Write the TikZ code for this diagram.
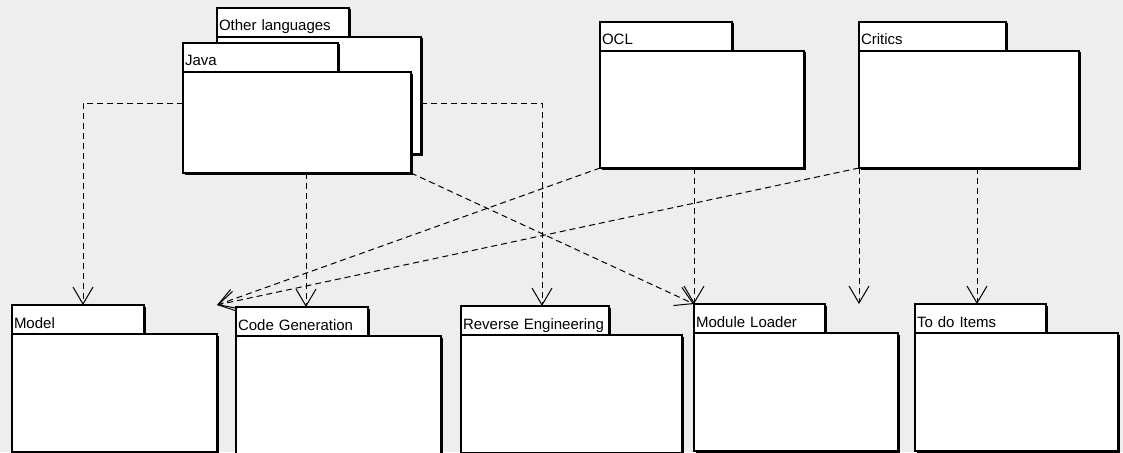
\documentclass[tikz,border=0pt]{standalone}
\usepackage{fontspec}
\setmainfont{Liberation Sans}
\usetikzlibrary{arrows.meta,shadows}
\definecolor{bggray}{HTML}{EEEEEE}
\tikzstyle{pkg tab}=[draw=black, fill=white, line width=1.2pt, anchor=north west,
  inner xsep=2pt, inner ysep=0pt, outer sep=0pt, align=left,
  font=\fontsize{15}{17}\selectfont, text height=17pt, text depth=0pt,
  drop shadow={shadow xshift=1.5pt, shadow yshift=-1.5pt, fill=black, opacity=1}]
\tikzstyle{pkg body}=[draw=black, fill=white, line width=1.2pt, anchor=north west,
  inner sep=0pt, outer sep=0pt,
  drop shadow={shadow xshift=1.5pt, shadow yshift=-1.5pt, fill=black, opacity=1}]
\tikzstyle{dep}=[line width=1pt, dash pattern=on 6pt off 4pt,
  -{Straight Barb[length=17pt,width=20pt]}]
% name, x, tab top, tab width, body width, body height, label
\newcommand{\umlpackage}[7]{%
  \pgfmathsetmacro\tabtextw{#4-4}%
  \node[pkg tab, minimum width=#4pt, minimum height=29pt, text width=\tabtextw pt]
    (#1-tab) at (#2,#3) {#7};
  \node[pkg body, minimum width=#5pt, minimum height=#6pt] (#1) at (#1-tab.south west) {};
}

\begin{document}
\begin{tikzpicture}[x=1pt, y=-1pt]
  \fill[bggray] (0,0) rectangle (1123,452);
  \useasboundingbox (0,0) rectangle (1123,452);

  % upper packages
  \umlpackage{other}{217}{8}{132}{204}{117}{Other languages}
  \umlpackage{java}{183}{43}{155}{228}{101}{Java}
  \umlpackage{ocl}{600}{22}{132}{204}{117}{OCL}
  \umlpackage{critics}{859}{22}{147}{220}{117}{Critics}

  % lower packages
  \foreach \n/\x/\y/\tw/\bw/\t in {model/12/305/132/205/Model,
      codegen/236/307/132/205/Code Generation,
      reverse/461/306/148/221/Reverse Engineering,
      loader/694/304/131/204/Module Loader,
      todo/915/304/131/203/To do Items}
    \umlpackage{\n}{\x}{\y}{\tw}{\bw}{118}{\t};

  % dependencies
  \draw[dep] ([yshift=-31pt]java.north west) -| ([xshift=71pt]model-tab.north west);
  \draw[dep] ([xshift=123pt]java.south west) -- ([xshift=70pt]codegen-tab.north west);
  \draw[dep] ([yshift=-66pt]other.north east) -| ([xshift=81pt]reverse-tab.north west);
  \draw[dep] (java.south east) -- (loader-tab.north west);
  \draw[dep] ([xshift=94pt]ocl.south west) -- (loader-tab.north west);
  \draw[dep] (ocl.south west) -- (model.north east |- model-tab.north);
  \draw[dep] (critics.south west) -- (model.north east |- model-tab.north);
  \draw[dep] (critics.south west) -- (critics.south west |- loader-tab.north);
  \draw[dep] ([xshift=118pt]critics.south west) -- ([xshift=118pt]critics.south west |- todo-tab.north);
\end{tikzpicture}
\end{document}
